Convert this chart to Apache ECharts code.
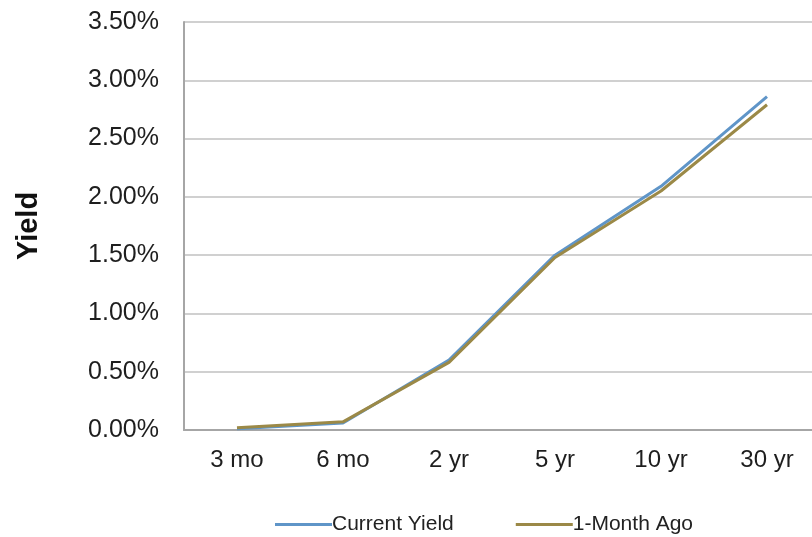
<!DOCTYPE html>
<html>
<head>
<meta charset="utf-8">
<script src="https://cdn.jsdelivr.net/npm/echarts@6/dist/echarts.min.js"></script>
<style>
html,body{margin:0;padding:0;background:#fff;overflow:hidden;}
#chart{width:820px;height:537px;}
</style>
</head>
<body>
<div id="chart"></div>
<script>
const categories = ['3 mo', '6 mo', '2 yr', '5 yr', '10 yr', '30 yr'];
const currentYield = [0.01, 0.06, 0.60, 1.50, 2.09, 2.86];
const monthAgo = [0.02, 0.07, 0.58, 1.48, 2.05, 2.79];
const seriesNames = ['Current Yield', '1-Month Ago'];

const chart = echarts.init(document.getElementById('chart'), null, {renderer: 'canvas'});
const font = 'Liberation Sans, Arial, sans-serif';
chart.setOption({
  animation: false,
  backgroundColor: '#ffffff',
  grid: {left: 184, top: 22, right: 0, bottom: 107, containLabel: false},
  legend: {
    data: seriesNames,
    left: 275, top: 514, padding: 0,
    icon: 'rect', itemWidth: 57, itemHeight: 3, itemGap: 62,
    textStyle: {fontFamily: font, fontSize: 21, color: '#222', padding: [0,0,0,-5]}
  },
  xAxis: {
    type: 'category',
    data: categories,
    boundaryGap: true,
    axisLine: {lineStyle: {color: '#a6a6a6', width: 2}},
    axisTick: {show: false},
    axisLabel: {fontFamily: font, fontSize: 24, color: '#1e1e1e', margin: 18}
  },
  yAxis: {
    type: 'value',
    min: 0, max: 3.5, interval: 0.5,
    name: 'Yield',
    nameLocation: 'middle',
    nameRotate: 90,
    nameGap: 141,
    nameTextStyle: {fontFamily: font, fontSize: 29, fontWeight: 'bold', color: '#111'},
    axisLine: {show: true, lineStyle: {color: '#a6a6a6', width: 2}},
    axisTick: {show: false},
    splitLine: {lineStyle: {color: '#d0d0d0', width: 2}},
    axisLabel: {fontFamily: font, fontSize: 25, color: '#1e1e1e', margin: 25,
      formatter: v => v.toFixed(2) + '%'}
  },
  series: [
    {name: seriesNames[0], type: 'line', data: currentYield, symbol: 'none',
     lineStyle: {color: '#5f95c8', width: 3}, itemStyle: {color: '#5f95c8'}},
    {name: seriesNames[1], type: 'line', data: monthAgo, symbol: 'none',
     lineStyle: {color: '#9b8947', width: 3}, itemStyle: {color: '#9b8947'}}
  ]
});
</script>
</body>
</html>
